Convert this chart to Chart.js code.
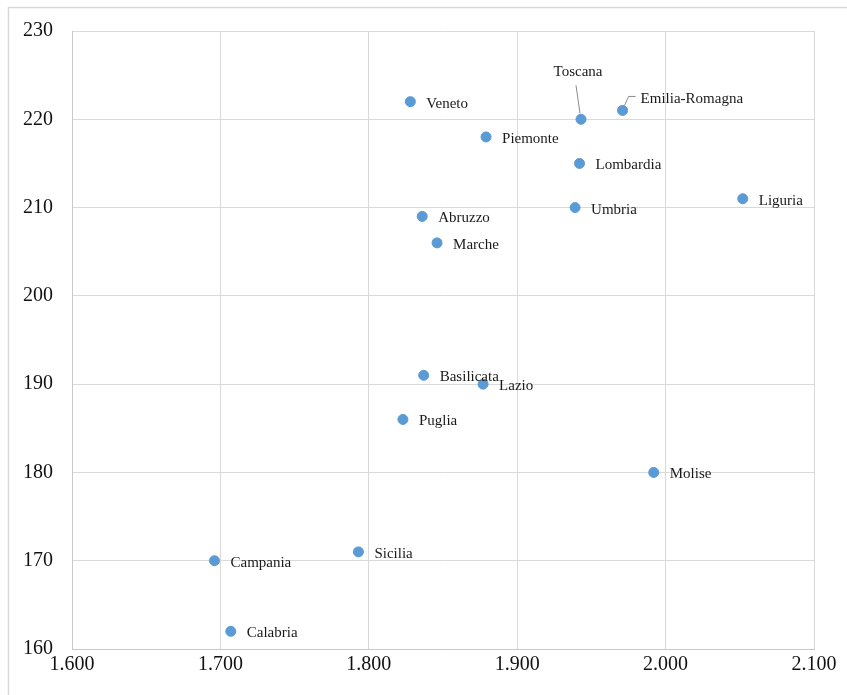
<!DOCTYPE html>
<html>
<head>
<meta charset="utf-8">
<script src="https://cdn.jsdelivr.net/npm/chart.js@4.4.1/dist/chart.umd.min.js"></script>
<style>
  html, body { margin: 0; padding: 0; background: #ffffff; }
  #wrap { width: 847px; height: 695px; }
</style>
</head>
<body>
<div id="wrap"><canvas id="c" width="847" height="695"></canvas></div>
<script>
// Regions and their two indicators
const regions = ["Veneto", "Piemonte", "Toscana", "Emilia-Romagna", "Lombardia", "Liguria",
  "Umbria", "Abruzzo", "Marche", "Basilicata", "Lazio", "Puglia", "Molise", "Sicilia",
  "Campania", "Calabria"];
const xValues = [1.828, 1.879, 1.943, 1.971, 1.942, 2.052, 1.939, 1.836, 1.846, 1.837,
  1.877, 1.823, 1.992, 1.793, 1.696, 1.707];
const yValues = [222, 218, 220, 221, 215, 211, 210, 209, 206, 191, 190, 186, 180, 171, 170, 162];

// Axis ranges
const xMin = 1.6, xMax = 2.1, xStep = 0.1;
const yMin = 160, yMax = 230, yStep = 10;

const points = regions.map((r, i) => ({ x: xValues[i], y: yValues[i], name: r }));

const serif = '"Liberation Serif", "Times New Roman", serif';

// Label placement: default to the right of the marker; two labels use leader lines
const labelPlacement = {
  "Toscana": { dx: -3, dy: -47, align: "center", leader: [[-1, -6], [-5, -34]] },
  "Emilia-Romagna": { dx: 18, dy: -11, align: "left", leader: [[2, -5], [6, -14], [13, -14]] }
};

const frame = {
  id: "frame",
  beforeDraw(chart) {
    const ctx = chart.ctx;
    ctx.save();
    ctx.fillStyle = "#ffffff";
    ctx.fillRect(0, 0, chart.width, chart.height);
    ctx.strokeStyle = "#d9d9d9";
    ctx.lineWidth = 1.5;
    ctx.strokeRect(8.5, 7.5, chart.width + 20, chart.height + 20);
    ctx.restore();
  }
};

const pointLabels = {
  id: "pointLabels",
  afterDatasetsDraw(chart) {
    const ctx = chart.ctx;
    const meta = chart.getDatasetMeta(0);
    ctx.save();
    ctx.font = "15px " + serif;
    ctx.fillStyle = "#1a1a1a";
    ctx.textBaseline = "middle";
    meta.data.forEach((el, i) => {
      const name = points[i].name;
      const p = labelPlacement[name];
      if (p) {
        ctx.strokeStyle = "#8c8c8c";
        ctx.lineWidth = 1;
        ctx.beginPath();
        p.leader.forEach((pt, k) => {
          const lx = el.x + pt[0], ly = el.y + pt[1];
          if (k === 0) ctx.moveTo(lx, ly); else ctx.lineTo(lx, ly);
        });
        ctx.stroke();
        ctx.textAlign = p.align;
        ctx.fillText(name, el.x + p.dx, el.y + p.dy);
      } else {
        ctx.textAlign = "left";
        ctx.fillText(name, el.x + 16, el.y + 2);
      }
    });
    ctx.restore();
  }
};

new Chart(document.getElementById("c"), {
  type: "scatter",
  data: {
    datasets: [{
      data: points,
      backgroundColor: "#5b9bd5",
      borderColor: "#5b9bd5",
      pointRadius: 5,
      pointHoverRadius: 5
    }]
  },
  options: {
    responsive: false,
    animation: false,
    layout: { padding: { top: 30, right: 33, left: 0, bottom: 0 } },
    plugins: {
      legend: { display: false },
      tooltip: { enabled: false }
    },
    scales: {
      x: {
        type: "linear",
        min: xMin, max: xMax,
        afterFit(scale) { scale.height = 46; },
        grid: { color: "#d9d9d9", lineWidth: 1, drawTicks: false },
        border: { display: true, color: "#c8c8c8", width: 1 },
        ticks: {
          stepSize: xStep,
          padding: 4,
          color: "#111111",
          font: { family: serif, size: 20 },
          maxRotation: 0,
          callback: v => Number(v).toFixed(3)
        }
      },
      y: {
        type: "linear",
        min: yMin, max: yMax,
        afterFit(scale) { scale.width = 72; },
        grid: { color: "#d9d9d9", lineWidth: 1, drawTicks: false },
        border: { display: true, color: "#c8c8c8", width: 1 },
        ticks: {
          stepSize: yStep,
          padding: 19,
          color: "#111111",
          font: { family: serif, size: 20 }
        }
      }
    }
  },
  plugins: [frame, pointLabels]
});
</script>
</body>
</html>
